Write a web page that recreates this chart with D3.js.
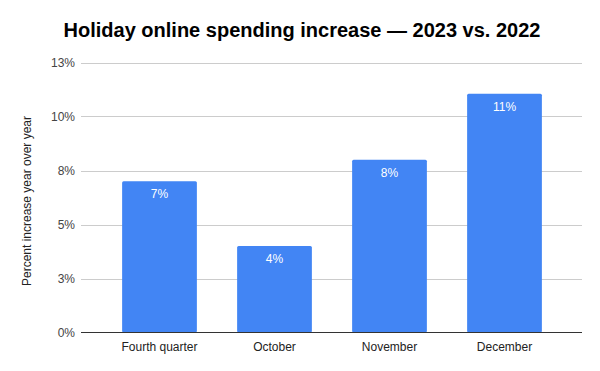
<!DOCTYPE html>
<html>
<head>
<meta charset="utf-8">
<script src="https://d3js.org/d3.v7.min.js"></script>
<style>
  body { margin: 0; background: #fff; }
  text { font-family: "Liberation Sans", Arial, sans-serif; }
</style>
</head>
<body>
<div id="chart"></div>
<script>
// data
var categories = ["Fourth quarter", "October", "November", "December"];
var values = [7.0, 4.0, 8.0, 11.05];
var tickValues = [0, 2.5, 5, 7.5, 10, 12.5];
var tickLabels = ["0%", "3%", "5%", "8%", "10%", "13%"];
var barLabels = ["7%", "4%", "8%", "11%"];

var width = 600,
    height = 371;

var svg = d3.select("#chart")
    .append("svg")
    .attr("width", width)
    .attr("height", height);

var x = d3.scaleBand()
    .domain(categories)
    .range([102, 562])
    .paddingInner(0.35)
    .paddingOuter(0.175);

var y = d3.scaleLinear()
    .domain([0, 12.5])
    .range([332.5, 62.5]);

// title
svg.append("text")
    .attr("x", 302)
    .attr("y", 37)
    .attr("text-anchor", "middle")
    .style("font-size", "20px")
    .style("font-weight", "bold")
    .attr("fill", "#000")
    .text("Holiday online spending increase \u2014 2023 vs. 2022");

// gridlines
svg.append("g")
    .selectAll("line")
    .data(tickValues.slice(1))
    .enter().append("line")
    .attr("x1", 81)
    .attr("x2", 582)
    .attr("y1", function(d) { return Math.round(y(d)) + 0.5; })
    .attr("y2", function(d) { return Math.round(y(d)) + 0.5; })
    .attr("stroke", "#cccccc")
    .attr("stroke-width", 1);

// y axis tick labels
var yAxis = d3.axisLeft(y)
    .tickValues(tickValues)
    .tickFormat(function(d, i) { return tickLabels[i]; })
    .tickSize(0)
    .tickPadding(0);

var yg = svg.append("g")
    .attr("transform", "translate(75,0)")
    .call(yAxis);
yg.select(".domain").remove();
yg.selectAll("text")
    .style("font-size", "12px")
    .style("font-family", "'Liberation Sans', Arial, sans-serif")
    .attr("fill", "#444444");

// bars
svg.append("g")
    .selectAll("rect")
    .data(values)
    .enter().append("rect")
    .attr("x", function(d, i) { return x(categories[i]); })
    .attr("width", x.bandwidth())
    .attr("y", function(d) { return y(d); })
    .attr("height", function(d) { return y(0) - y(d); })
    .attr("rx", 1.5)
    .attr("fill", "#4285f4");

// bar labels
svg.append("g")
    .selectAll("text")
    .data(values)
    .enter().append("text")
    .attr("x", function(d, i) { return x(categories[i]) + x.bandwidth() / 2; })
    .attr("y", function(d) { return y(d) + 17; })
    .attr("text-anchor", "middle")
    .style("font-size", "12px")
    .attr("fill", "#ffffff")
    .text(function(d, i) { return barLabels[i]; });

// x axis
var xAxis = d3.axisBottom(x)
    .tickSize(0)
    .tickPadding(10);

var xg = svg.append("g")
    .attr("transform", "translate(0," + y(0) + ")")
    .call(xAxis);
xg.select(".domain").remove();
xg.selectAll("text")
    .style("font-size", "12px")
    .style("font-family", "'Liberation Sans', Arial, sans-serif")
    .attr("fill", "#222222");

svg.append("line")
    .attr("x1", 81)
    .attr("x2", 582)
    .attr("y1", 332.5)
    .attr("y2", 332.5)
    .attr("stroke", "#333333")
    .attr("stroke-width", 1);

// y axis title
svg.append("text")
    .attr("transform", "translate(31,201) rotate(-90)")
    .attr("text-anchor", "middle")
    .style("font-size", "12px")
    .attr("fill", "#222222")
    .text("Percent increase year over year");
</script>
</body>
</html>
